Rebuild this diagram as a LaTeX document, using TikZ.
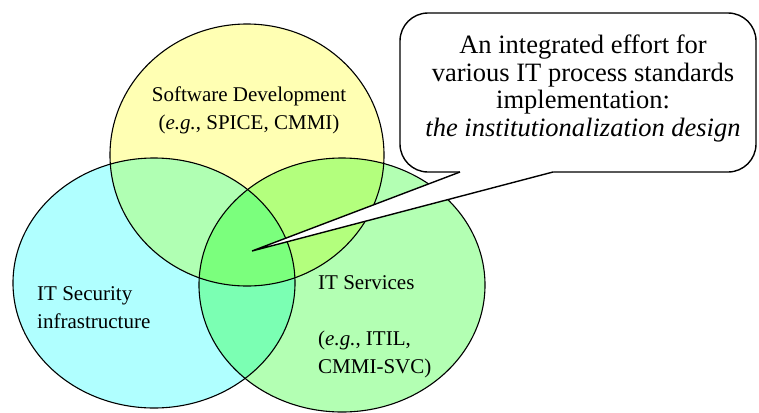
\documentclass[tikz,border=0pt]{standalone}
\usepackage{fontspec}
\setmainfont{Liberation Serif}
\definecolor{swyellow}{RGB}{255,255,179}
\definecolor{seccyan}{RGB}{176,255,255}
\definecolor{svcgreen}{RGB}{179,255,179}
\begin{document}
\begin{tikzpicture}[x=1bp,y=-1bp,
  set/.style={draw=black,line width=1.1bp},
  lbl/.style={inner sep=0pt,font=\fontsize{21bp}{28bp}\selectfont},
  note/.style={draw,line width=1.4bp,fill=white,rounded corners=28bp,inner sep=0pt,
    minimum width=356bp,minimum height=159bp}]
\useasboundingbox (0,0) rectangle (759,412);
% the three areas
\begin{scope}[blend group=multiply]
\filldraw[set,fill=swyellow] (247,155) ellipse [x radius=137,y radius=131];
\filldraw[set,fill=seccyan] (154,283) ellipse [x radius=141,y radius=125];
\filldraw[set,fill=svcgreen] (342,285) ellipse [x radius=143,y radius=127];
\end{scope}
\node[lbl,align=center] (sw) at (249,110) {Software Development\\(\textit{e.g.}, SPICE, CMMI)};
\node[lbl,align=left,anchor=west] (sec) at (37,308) {IT Security\\infrastructure};
\node[lbl,align=left,anchor=west] (svc) at (318,327) {IT Services\\[28bp](\textit{e.g.}, ITIL,\\CMMI-SVC)};
% callout
\node[note] (note) at (578,92.5) {};
\coordinate (tip) at (252,251);
\coordinate (tl) at (460,172);
\coordinate (tr) at (553,172);
\fill[white] (tl) -- ++(0,-3) -| (tr) -- (tip) -- cycle;
\draw[line width=1.4bp] (tl) -- (tip) -- (tr);
\node[inner sep=0pt,align=center,font=\fontsize{26.5bp}{27.7bp}\selectfont] (notetext) at (583,88.5)
  {An integrated effort for\\various IT process standards\\implementation:\\\textit{the institutionalization design}};
\end{tikzpicture}
\end{document}
